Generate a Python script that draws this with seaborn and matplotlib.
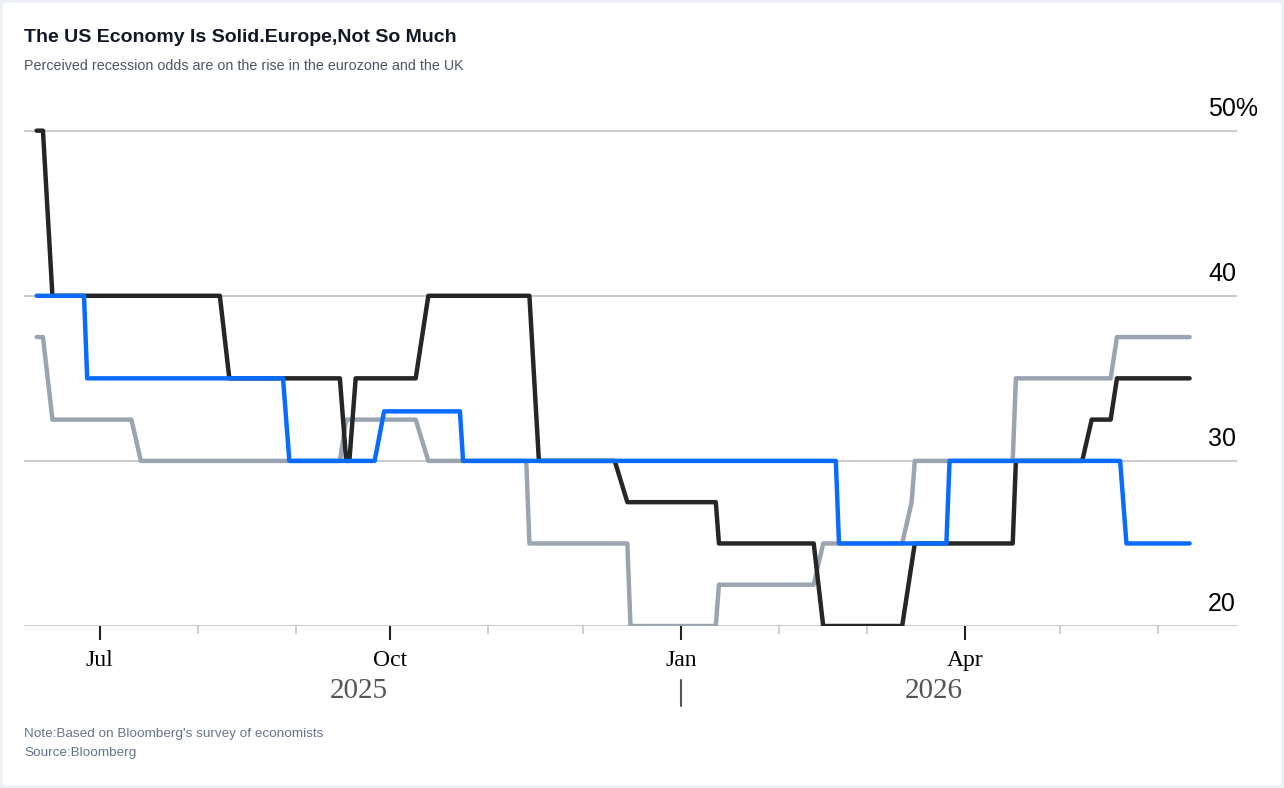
import pandas as pd
import numpy as np
import matplotlib
matplotlib.use("Agg")
import matplotlib.pyplot as plt
import matplotlib.dates as mdates
import matplotlib.transforms as mtransforms
from matplotlib.patches import Rectangle
import seaborn as sns

# survey dates and perceived recession odds (%)
black_dates = ["2025-06-11", "2025-06-13", "2025-06-16", "2025-08-08", "2025-08-11",
               "2025-09-15", "2025-09-17", "2025-09-18", "2025-09-20", "2025-10-09",
               "2025-10-13", "2025-11-14", "2025-11-17", "2025-12-11", "2025-12-15",
               "2026-01-12", "2026-01-13", "2026-02-12", "2026-02-15", "2026-03-12",
               "2026-03-16", "2026-04-16", "2026-04-17", "2026-05-08", "2026-05-11",
               "2026-05-17", "2026-05-19", "2026-06-11"]
black_vals = [50, 50, 40, 40, 35, 35, 30, 30, 35, 35, 40, 40, 30, 30, 27.5,
              27.5, 25, 25, 20, 20, 25, 25, 30, 30, 32.5, 32.5, 35, 35]

gray_dates = ["2025-06-11", "2025-06-13", "2025-06-16", "2025-07-11", "2025-07-14",
              "2025-09-15", "2025-09-17", "2025-10-09", "2025-10-13", "2025-11-13",
              "2025-11-14", "2025-12-15", "2025-12-16", "2026-01-12", "2026-01-13",
              "2026-02-12", "2026-02-15", "2026-03-12", "2026-03-15", "2026-03-16",
              "2026-04-16", "2026-04-17", "2026-05-17", "2026-05-19", "2026-06-11"]
gray_vals = [37.5, 37.5, 32.5, 32.5, 30, 30, 32.5, 32.5, 30, 30,
             25, 25, 20, 20, 22.5, 22.5, 25, 25, 27.5, 30,
             30, 35, 35, 37.5, 37.5]

blue_dates = ["2025-06-11", "2025-06-26", "2025-06-27", "2025-08-28", "2025-08-30",
              "2025-09-26", "2025-09-29", "2025-10-23", "2025-10-24", "2026-02-19",
              "2026-02-20", "2026-03-26", "2026-03-27", "2026-05-20", "2026-05-22",
              "2026-06-11"]
blue_vals = [40, 40, 35, 35, 30, 30, 33, 33, 30, 30, 25, 25, 30, 30, 25, 25]

ytick_vals = [20, 30, 40, 50]
ytick_labels = ["20", "30", "40", "50%"]
major_months = ["2025-07-01", "2025-10-01", "2026-01-01", "2026-04-01"]
major_labels = ["Jul", "Oct", "Jan", "Apr"]
minor_months = ["2025-08-01", "2025-09-01", "2025-11-01", "2025-12-01",
                "2026-02-01", "2026-03-01", "2026-05-01", "2026-06-01"]
year_labels = ["2025", "2026"]
year_pos = ["2025-09-21", "2026-03-22"]

df = pd.concat([
    pd.DataFrame({"date": pd.to_datetime(gray_dates), "odds": gray_vals, "s": "gray"}),
    pd.DataFrame({"date": pd.to_datetime(black_dates), "odds": black_vals, "s": "black"}),
    pd.DataFrame({"date": pd.to_datetime(blue_dates), "odds": blue_vals, "s": "blue"}),
])
pal = {"gray": "#9aa5b1", "black": "#262626", "blue": "#0a6cff"}

sns.set_style("white")
fig = plt.figure(figsize=(12.84, 7.88), dpi=100)
ax = fig.add_axes([24 / 1284, 1 - 626 / 788, (1237 - 24) / 1284, (626 - 113.5) / 788])

sns.lineplot(data=df, x="date", y="odds", hue="s", hue_order=["gray", "black", "blue"],
             palette=pal, lw=3.2, legend=False, ax=ax, estimator=None, sort=False)
for ln in ax.lines:
    ln.set_solid_joinstyle("round")
    ln.set_solid_capstyle("round")

ax.set_xlim(pd.Timestamp("2025-06-07"), pd.Timestamp("2026-06-26"))
ax.set_ylim(20, 51.04)
for s in ax.spines.values():
    s.set_visible(False)
for v in ytick_vals:
    ax.axhline(v, color="#cccccc", lw=1.5, zorder=0)
ax.set_yticks([])
ax.set_ylabel("")
ax.set_xlabel("")

# y labels above gridlines on the right
off = mtransforms.ScaledTranslation(0, 10 / 100, fig.dpi_scale_trans)
tr = mtransforms.blended_transform_factory(ax.transAxes, ax.transData) + off
for v, lab in zip(ytick_vals, ytick_labels):
    ax.text((1208 - 24) / (1237 - 24), v, lab, transform=tr, ha="left", va="bottom",
            fontsize=18, family="Liberation Sans", color="black")

# x ticks
ax.set_xticks(pd.to_datetime(major_months))
ax.set_xticklabels(major_labels, family="Liberation Serif", fontsize=17, color="black")
ax.set_xticks(pd.to_datetime(minor_months), minor=True)
ax.tick_params(axis="x", which="major", length=10, width=1.5, color="#222222", pad=7,
               bottom=True, direction="out")
ax.tick_params(axis="x", which="minor", length=6, width=1.3, color="#cccccc",
               bottom=True, direction="out")

xtr = mtransforms.blended_transform_factory(ax.transData, fig.transFigure)
for p, lab in zip(year_pos, year_labels):
    ax.text(pd.Timestamp(p), 1 - 691 / 788, lab, transform=xtr, ha="center", va="center",
            fontsize=21, family="Liberation Serif", color="#555555")
ax.plot([pd.Timestamp("2026-01-01")] * 2, [1 - 680 / 788, 1 - 706 / 788], transform=xtr,
        color="#555555", lw=1.5, clip_on=False)

fig.text(24 / 1284, 1 - 37 / 788, "The US Economy Is Solid.Europe,Not So Much",
         fontsize=14, fontweight="bold", family="Liberation Sans", color="#111827",
         va="center", ha="left")
fig.text(24 / 1284, 1 - 66 / 788, "Perceived recession odds are on the rise in the eurozone and the UK",
         fontsize=10.3, family="Liberation Sans", color="#4b5563", va="center", ha="left")
fig.text(24 / 1284, 1 - 734 / 788, "Note:Based on Bloomberg's survey of economists",
         fontsize=9.7, family="Liberation Sans", color="#64748b", va="center", ha="left")
fig.text(24 / 1284, 1 - 753 / 788, "Source:Bloomberg",
         fontsize=9.7, family="Liberation Sans", color="#64748b", va="center", ha="left")

fig.patches.append(Rectangle((0, 0), 1, 1, transform=fig.transFigure, fill=False,
                             edgecolor="#edf0f4", lw=4))

fig.savefig("out.png", dpi=100)
